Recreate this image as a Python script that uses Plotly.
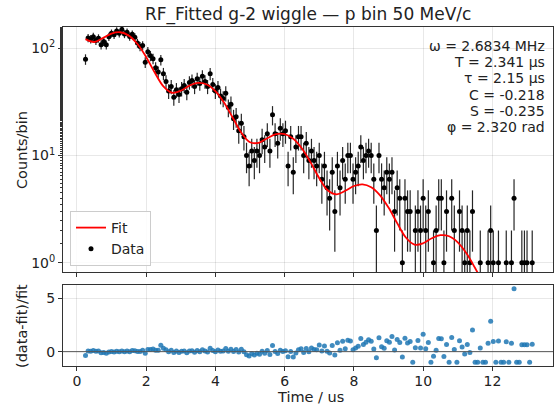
import numpy as np
import plotly.graph_objects as go
from plotly.subplots import make_subplots

# ---------------- data ----------------
t0, dt, nbins = 0.25, 0.075, 173          # bin-centre grid, microseconds
time_us = np.round(t0 + dt * np.arange(nbins), 4)

counts = [
    79, 125, 122, 128, 118, 124, 108, 116, 108, 128,
    138, 134, 145, 138, 150, 136, 141, 129, 135, 127,
    112, 104, 106, 74, 93, 85, 80, 66, 60, 78,
    58, 49, 40, 44, 35, 41, 37, 42, 45, 39,
    48, 50, 44, 52, 47, 55, 49, 44, 58, 46,
    40, 43, 36, 34, 38, 28, 30, 22, 23, 17,
    20, 15, 10, 8, 11, 9, 11, 10, 14, 12,
    16, 11, 24, 16, 13, 18, 16, 17, 8, 15,
    7, 12, 15, 15, 10, 13, 9, 11, 9, 8,
    10, 6, 8, 5, 4, 7, 3, 8, 5, 9,
    6, 10, 10, 6, 7, 8, 12, 9, 10, 11,
    10, 6, 2, 10, 6, 5, 7, 6, 7, 3,
    5, 4, 1, 4, 3, 3, 0, 2, 3, 2,
    4, 2, 3, 0, 1, 2, 4, 4, 1, 3,
    0, 4, 2, 0, 3, 2, 1, 2, 1, 3,
    0, 0, 1, 0, 0, 1, 2, 1, 0, 1,
    0, 0, 1, 0, 1, 4, 0, 0, 1, 1,
    1, 0, 1,
]

residuals = [
    -0.35, 0.05, 0.04, 0.11, 0.03, 0.05, -0.11, -0.08, -0.16, -0.04,
    0.01, -0.04, 0.03, -0.02, 0.07, -0.01, 0.05, -0.01, 0.10, 0.09,
    0.02, 0.02, 0.13, -0.14, 0.19, 0.20, 0.25, 0.14, 0.13, 0.61,
    0.32, 0.17, 0.00, 0.14, -0.09, 0.06, -0.07, 0.03, 0.07, -0.10,
    0.07, 0.09, -0.06, 0.10, -0.01, 0.17, 0.05, -0.04, 0.32, 0.10,
    0.00, 0.15, 0.03, 0.06, 0.29, 0.04, 0.23, 0.02, 0.19, -0.03,
    0.23, -0.01, -0.30, -0.41, -0.17, -0.31, -0.16, -0.24, 0.03, -0.15,
    0.10, -0.26, 0.57, 0.02, -0.18, 0.13, 0.01, 0.08, -0.48, 0.01,
    -0.51, -0.12, 0.17, 0.26, -0.09, 0.29, -0.02, 0.33, 0.20, 0.18,
    0.63, 0.05, 0.54, 0.04, -0.13, 0.57, -0.31, 0.84, 0.14, 0.98,
    0.28, 1.06, 1.00, 0.17, 0.33, 0.50, 1.23, 0.67, 0.89, 1.12,
    0.97, 0.24, -0.57, 1.30, 0.46, 0.32, 1.03, 0.89, 1.41, 0.15,
    1.14, 0.86, -0.49, 1.25, 0.82, 0.94, -1.00, 0.36, 1.04, 0.34,
    1.63, 0.28, 0.85, -1.00, -0.42, 0.14, 1.23, 1.21, -0.45, 0.68,
    -1.00, 1.33, 0.21, -1.00, 1.01, 0.44, -0.22, 0.68, -0.08, 2.03,
    -1.00, -1.00, 0.35, -1.00, -1.00, 0.79, 2.85, 0.96, -1.00, 1.00,
    -1.00, -1.00, 0.92, -1.00, 0.79, 5.90, -1.00, -1.00, 0.65, 0.65,
    0.65, -1.00, 0.69,
]

fit_time_us = [0.25, 0.5, 0.75, 1.0, 1.25, 1.5, 1.75, 2.0, 2.25, 2.5,
               2.75, 3.0, 3.25, 3.5, 3.75, 4.0, 4.25, 4.5, 4.75, 5.0,
               5.25, 5.5, 5.75, 6.0, 6.25, 6.5, 6.75, 7.0, 7.25, 7.5,
               7.75, 8.0, 8.25, 8.5, 8.75, 9.0, 9.25, 9.5, 9.75, 10.0,
               10.25, 10.5, 10.75, 11.0, 11.25, 11.5, 11.75, 12.0, 12.25, 12.5,
               12.75, 13.0]
fit_counts = [121.7, 114.5, 124.4, 137.2, 141.2, 131.3, 109.7, 83.1, 59.4, 44.1,
              38.5, 40.2, 44.8, 47.5, 46.0, 39.9, 31.3, 22.6, 16.33, 13.30,
              13.14, 14.51, 15.80, 15.85, 14.33, 11.63, 8.63, 6.15, 4.72, 4.35,
              4.69, 5.20, 5.39, 5.07, 4.28, 3.27, 2.34, 1.72, 1.476, 1.521,
              1.692, 1.807, 1.768, 1.552, 1.227, 0.894, 0.641, 0.513, 0.497, 0.548,
              0.599, 0.607]

param_lines = ["ω = 2.6834 MHz", "T = 2.341 μs", "τ = 2.15 μs",
               "C = -0.218", "S = -0.235", "φ = 2.320 rad"]

title_text = "RF_Fitted g-2 wiggle — p bin 50 MeV/c"
x_ticks = [0, 2, 4, 6, 8, 10, 12]

# ---------------- figure ----------------
W, H = 555, 405
ML, MR, MT, MB = 63, 2, 27, 39
PW, PH = W - ML - MR, H - MT - MB
top_px, gap_px, bot_px = 245, 13, 81

FONT = "DejaVu Sans"
fig = make_subplots(rows=2, cols=1, shared_xaxes=False)

cnt = np.array(counts, dtype=float)
pos = cnt > 0
fig.add_trace(go.Scatter(
    x=time_us[pos], y=cnt[pos], mode="markers", name="Data",
    marker=dict(color="black", size=5),
    error_y=dict(type="sqrt", color="rgba(0,0,0,0.85)", thickness=1.2, width=0),
    legendrank=2,
), row=1, col=1)

fig.add_trace(go.Scatter(
    x=fit_time_us, y=fit_counts, mode="lines", name="Fit",
    line=dict(color="red", width=1.8, shape="spline", smoothing=1.0),
    legendrank=1,
), row=1, col=1)

fig.add_trace(go.Scatter(
    x=time_us, y=residuals, mode="markers", showlegend=False,
    marker=dict(color="#1f77b4", size=5, opacity=0.85),
), row=2, col=1)

bot_frac = bot_px / PH
top_start = (PH - top_px) / PH

axis_common = dict(
    showline=True, linecolor="#333", linewidth=1, mirror=True,
    ticks="outside", ticklen=4, tickcolor="#333",
    showgrid=True, gridcolor="rgba(0,0,0,0.09)", gridwidth=1,
    zeroline=False, tickfont=dict(family=FONT, size=14, color="#222"),
)

xr = [-0.40, 13.75]
fig.update_layout(
    width=W, height=H,
    margin=dict(l=ML, r=MR, t=MT, b=MB),
    paper_bgcolor="white", plot_bgcolor="white",
    font=dict(family=FONT, color="#222"),
    xaxis=dict(axis_common, domain=[0, 1], range=xr, tickvals=x_ticks,
               showticklabels=False, anchor="y"),
    yaxis=dict(axis_common, domain=[top_start, 1], type="log",
               range=[np.log10(0.82), np.log10(158)],
               tickvals=[1, 10, 100],
               ticktext=["10<sup>0</sup>", "10<sup>1</sup>", "10<sup>2</sup>"],
               minor=dict(ticks="outside", ticklen=2, tickcolor="#333", showgrid=False),
               anchor="x"),
    xaxis2=dict(axis_common, domain=[0, 1], range=xr, tickvals=x_ticks, anchor="y2",
                ticklabelstandoff=-2),
    yaxis2=dict(axis_common, domain=[0, bot_frac], range=[-1.345, 6.245],
                tickvals=[0, 5], anchor="x2"),
    legend=dict(x=(70 - ML) / PW, y=(H - MB - 266) / PH, xanchor="left", yanchor="bottom",
                bgcolor="rgba(255,255,255,0.85)", bordercolor="#ccc", borderwidth=1,
                font=dict(family=FONT, size=14, color="#222"),
                tracegroupgap=0, itemwidth=30),
    showlegend=True,
)

# zero line in the residual panel
fig.add_shape(type="line", xref="x2 domain", yref="y2", x0=0, x1=1, y0=0, y1=0,
              line=dict(color="#555", width=1))

# title
fig.add_annotation(text=title_text, xref="paper", yref="paper",
                   x=0.5, y=(H - MB - 14) / PH, xanchor="center", yanchor="middle",
                   showarrow=False, font=dict(family=FONT, size=17, color="#222"))

# axis labels
fig.add_annotation(text="Counts/bin", xref="paper", yref="paper",
                   x=(22 - ML) / PW, y=(H - MB - 150) / PH, textangle=-90,
                   xanchor="center", yanchor="middle", showarrow=False,
                   font=dict(family=FONT, size=14.5, color="#222"))
fig.add_annotation(text="(data-fit)/fit", xref="paper", yref="paper",
                   x=(22 - ML) / PW, y=(H - MB - 326) / PH, textangle=-90,
                   xanchor="center", yanchor="middle", showarrow=False,
                   font=dict(family=FONT, size=14.5, color="#222"))
fig.add_annotation(text="Time / us", xref="paper", yref="paper",
                   x=(310 - ML) / PW, y=(H - MB - 397) / PH, xanchor="center", yanchor="middle",
                   showarrow=False, font=dict(family=FONT, size=14.5, color="#222"))

# parameter box (right aligned, one line each)
for i, line in enumerate(param_lines):
    ypx = 46 + 16.2 * i
    fig.add_annotation(text=line, xref="paper", yref="paper",
                       x=(547 - ML) / PW, y=(H - MB - ypx) / PH,
                       xanchor="right", yanchor="middle", showarrow=False,
                       font=dict(family=FONT, size=14, color="#222"))

fig.write_html("out.html", config={"displayModeBar": False},
               post_script="document.body.style.margin='0';document.body.style.overflow='hidden';")
